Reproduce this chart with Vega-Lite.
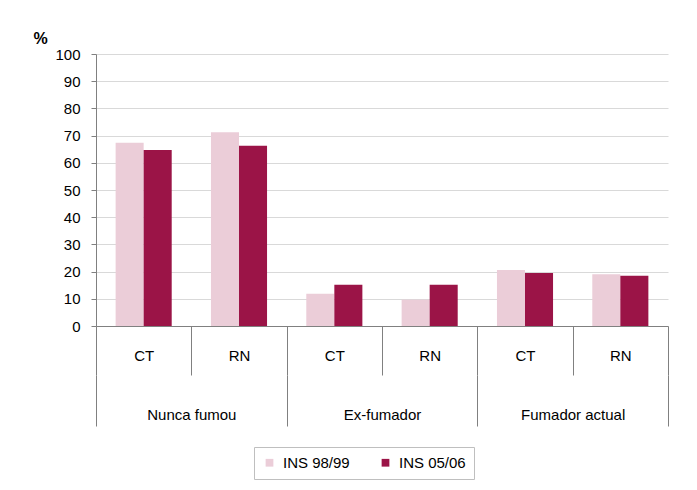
{
  "$schema": "https://vega.github.io/schema/vega-lite/v6.json",
  "width": 572,
  "height": 272,
  "autosize": {"type": "none"},
  "padding": {"left": 96, "top": 54, "right": 29, "bottom": 164},
  "background": "white",
  "config": {"font": "Liberation Sans", "view": {"stroke": null}},
  "data": {
    "values": [
      {"group": "Nunca fumou", "key": "Nunca fumou|CT", "serie": "INS 98/99", "value": 67.4},
      {"group": "Nunca fumou", "key": "Nunca fumou|CT", "serie": "INS 05/06", "value": 64.7},
      {"group": "Nunca fumou", "key": "Nunca fumou|RN", "serie": "INS 98/99", "value": 71.2},
      {"group": "Nunca fumou", "key": "Nunca fumou|RN", "serie": "INS 05/06", "value": 66.3},
      {"group": "Ex-fumador", "key": "Ex-fumador|CT", "serie": "INS 98/99", "value": 11.9},
      {"group": "Ex-fumador", "key": "Ex-fumador|CT", "serie": "INS 05/06", "value": 15.2},
      {"group": "Ex-fumador", "key": "Ex-fumador|RN", "serie": "INS 98/99", "value": 9.7},
      {"group": "Ex-fumador", "key": "Ex-fumador|RN", "serie": "INS 05/06", "value": 15.2},
      {"group": "Fumador actual", "key": "Fumador actual|CT", "serie": "INS 98/99", "value": 20.6},
      {"group": "Fumador actual", "key": "Fumador actual|CT", "serie": "INS 05/06", "value": 19.5},
      {"group": "Fumador actual", "key": "Fumador actual|RN", "serie": "INS 98/99", "value": 19.0},
      {"group": "Fumador actual", "key": "Fumador actual|RN", "serie": "INS 05/06", "value": 18.5}
    ]
  },
  "encoding": {
    "y": {
      "field": "value", "type": "quantitative",
      "scale": {"domain": [0, 100]},
      "axis": {
        "title": "%", "titleAngle": 0, "titleFontWeight": "bold", "titleFontSize": 16,
        "titleX": -56, "titleY": -16, "titleAlign": "center", "titleBaseline": "middle",
        "values": [0, 10, 20, 30, 40, 50, 60, 70, 80, 90, 100],
        "labelFontSize": 15, "labelColor": "#000000", "tickColor": "#808080", "tickSize": 5,
        "labelPadding": 11, "domainColor": "#808080", "gridColor": "#d9d9d9", "grid": true,
        "labelOverlap": false
      }
    }
  },
  "layer": [
    {
      "mark": {"type": "bar"},
      "encoding": {
        "x": {
          "field": "key", "type": "nominal", "sort": null,
          "scale": {"paddingInner": 0, "paddingOuter": 0},
          "axis": {
            "title": null, "labelExpr": "split(datum.value, '|')[1]", "labelAngle": 0,
            "tickBand": "extent", "tickSize": 49, "tickColor": "#808080", "domainColor": "#808080",
            "labelFontSize": 15, "labelColor": "#000000", "labelBaseline": "middle", "labelPadding": -20,
            "grid": false
          }
        },
        "xOffset": {
          "field": "serie", "type": "nominal", "sort": ["INS 98/99", "INS 05/06"],
          "scale": {"paddingInner": 0, "paddingOuter": 0.7}
        },
        "color": {
          "field": "serie", "type": "nominal",
          "scale": {"domain": ["INS 98/99", "INS 05/06"], "range": ["#EBCDD8", "#9B1447"]},
          "legend": {
            "title": null, "orient": "none", "legendX": 158, "legendY": 393, "direction": "horizontal",
            "strokeColor": "#bfbfbf", "fillColor": "white", "padding": 8,
            "symbolType": "square", "symbolSize": 60, "symbolStrokeWidth": 0,
            "labelFontSize": 15, "labelColor": "#000000", "labelOffset": 6, "columnPadding": 28
          }
        }
      }
    },
    {
      "mark": {"type": "bar", "opacity": 0},
      "encoding": {
        "x": {
          "field": "group", "type": "nominal", "sort": null,
          "scale": {"paddingInner": 0, "paddingOuter": 0},
          "axis": {
            "title": null, "labelAngle": 0, "orient": "bottom", "offset": 49,
            "tickBand": "extent", "tickSize": 51, "tickColor": "#808080", "domain": false,
            "labelFontSize": 15, "labelColor": "#000000", "labelBaseline": "middle", "labelPadding": -12,
            "grid": false
          }
        }
      }
    }
  ],
  "resolve": {"scale": {"x": "independent"}}
}
